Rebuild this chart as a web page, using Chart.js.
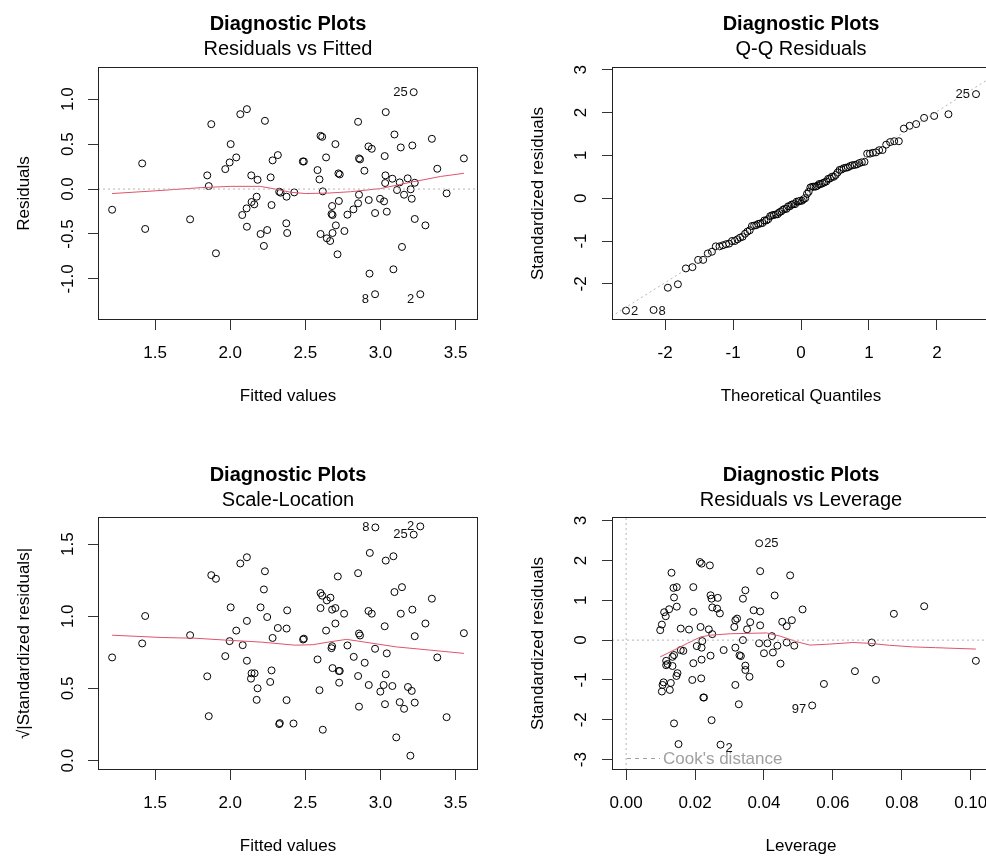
<!DOCTYPE html>
<html><head><meta charset="utf-8">
<script src="https://cdn.jsdelivr.net/npm/chart.js@4.4.1/dist/chart.umd.min.js"></script>
<style>
html,body{margin:0;padding:0;background:#fff;overflow:hidden;width:986px;height:857px;position:relative}
canvas{position:absolute;display:block}
</style></head><body>
<canvas id="c1" width="493" height="451" style="left:0;top:0"></canvas>
<canvas id="c2" width="520" height="451" style="left:493px;top:0"></canvas>
<canvas id="c3" width="493" height="406" style="left:0;top:451px"></canvas>
<canvas id="c4" width="520" height="406" style="left:493px;top:451px"></canvas>
<script>
// ---------------- DATA ----------------
const mainTitle = 'Diagnostic Plots';
const captions = ['Residuals vs Fitted', 'Q-Q Residuals', 'Scale-Location', 'Residuals vs Leverage'];

// Panel 1: Residuals vs Fitted
const p1Fitted = [1.214,1.414,1.434,1.733,1.874,1.847,1.857,1.905,2.067,2.111,2.231,2.003,2.040,1.996,1.967,2.140,2.182,2.282,2.317,2.269,2.326,2.335,2.375,2.176,2.142,2.160,2.109,2.080,2.111,2.275,2.202,2.246,2.224,2.373,2.379,2.426,2.483,2.490,2.581,2.594,2.616,2.601,2.612,2.638,2.700,2.720,2.729,2.678,2.723,2.674,2.681,2.703,2.681,2.601,2.643,2.665,2.760,2.714,2.780,2.820,2.851,2.857,2.851,2.857,2.864,2.893,2.920,2.942,2.922,2.964,2.927,2.964,2.997,3.024,3.042,3.035,3.028,3.033,3.031,3.093,3.079,3.110,3.128,3.135,3.157,3.181,3.228,3.201,3.208,3.212,3.086,3.143,3.228,3.299,3.265,3.221,3.342,3.378,3.440,3.555];
const p1Resid = [-0.230,0.285,-0.444,-0.337,0.722,0.152,0.033,-0.715,0.833,0.889,0.759,0.500,0.352,0.296,0.222,0.152,0.103,0.319,0.378,0.130,-0.030,-0.040,-0.085,-0.085,-0.144,-0.170,-0.215,-0.289,-0.419,-0.178,-0.500,-0.456,-0.633,-0.381,-0.489,-0.037,0.307,0.307,0.211,0.107,-0.026,0.592,0.581,0.352,0.500,0.174,0.163,-0.189,-0.133,-0.278,-0.289,-0.404,-0.489,-0.500,-0.548,-0.578,-0.467,-0.726,-0.285,-0.226,-0.159,-0.063,0.748,0.341,0.330,0.204,0.474,0.448,-0.122,-0.267,-0.941,-1.170,-0.108,-0.137,-0.252,0.856,0.367,0.152,0.067,0.607,0.115,-0.011,0.074,0.463,-0.063,0.119,0.070,-0.003,-0.108,0.485,-0.893,-0.644,-0.333,-0.404,-1.170,1.078,0.559,0.226,-0.048,0.341];
const p1SmoothX = [1.214,1.5,1.8,2.0,2.2,2.3,2.4,2.5,2.65,2.8,3.0,3.2,3.4,3.555];
const p1SmoothY = [-0.050,-0.020,0.015,0.030,0.030,0.000,-0.035,-0.050,-0.045,-0.030,0.005,0.075,0.140,0.175];
const p1RefX = [1.12,3.65];
const p1RefY = [0,0];
const p1IdText = ['25','8','2'];
const p1IdX = [3.221,2.964,3.265];
const p1IdY = [1.078,-1.170,-1.170];
const p1XTicks = [1.5,2.0,2.5,3.0,3.5];
const p1XTickLabels = ['1.5','2.0','2.5','3.0','3.5'];
const p1YTicks = [-1.0,-0.5,0.0,0.5,1.0];
const p1YTickLabels = ['-1.0','-0.5','0.0','0.5','1.0'];

// Panel 2: Q-Q Residuals
const qqTheo = [-2.576,-2.170,-1.960,-1.812,-1.695,-1.598,-1.514,-1.440,-1.372,-1.311,-1.254,-1.200,-1.150,-1.103,-1.058,-1.015,-0.974,-0.935,-0.896,-0.860,-0.824,-0.789,-0.755,-0.722,-0.690,-0.659,-0.628,-0.598,-0.568,-0.539,-0.510,-0.482,-0.454,-0.426,-0.399,-0.372,-0.345,-0.319,-0.292,-0.266,-0.240,-0.215,-0.189,-0.164,-0.138,-0.113,-0.088,-0.063,-0.038,-0.013,0.013,0.038,0.063,0.088,0.113,0.138,0.164,0.189,0.215,0.240,0.266,0.292,0.319,0.345,0.372,0.399,0.426,0.454,0.482,0.510,0.539,0.568,0.598,0.628,0.659,0.690,0.722,0.755,0.789,0.824,0.860,0.896,0.935,0.974,1.015,1.058,1.103,1.150,1.200,1.254,1.311,1.372,1.440,1.514,1.598,1.695,1.812,1.960,2.170,2.576];
const qqStd = [-2.625,-2.610,-2.090,-2.010,-1.640,-1.610,-1.440,-1.440,-1.290,-1.250,-1.125,-1.125,-1.100,-1.075,-1.060,-1.000,-1.000,-0.960,-0.920,-0.900,-0.830,-0.780,-0.750,-0.650,-0.640,-0.630,-0.600,-0.590,-0.580,-0.520,-0.520,-0.490,-0.420,-0.400,-0.390,-0.380,-0.375,-0.330,-0.310,-0.270,-0.250,-0.250,-0.190,-0.190,-0.150,-0.140,-0.140,-0.080,-0.080,-0.060,-0.060,-0.025,0.000,0.100,0.150,0.250,0.265,0.270,0.270,0.290,0.330,0.330,0.350,0.370,0.390,0.450,0.460,0.500,0.500,0.540,0.600,0.660,0.670,0.700,0.710,0.720,0.750,0.770,0.775,0.790,0.820,0.840,0.850,1.040,1.040,1.060,1.070,1.120,1.125,1.250,1.310,1.330,1.330,1.625,1.690,1.730,1.875,1.920,1.960,2.430];
const qqLineX = [-2.79,2.79];
const qqLineY = [-2.76,2.81];
const p2IdText = ['2','8','25'];
const p2IdX = [-2.576,-2.170,2.576];
const p2IdY = [-2.625,-2.610,2.430];
const p2XTicks = [-2,-1,0,1,2];
const p2XTickLabels = ['-2','-1','0','1','2'];
const p2YTicks = [-2,-1,0,1,2,3];
const p2YTickLabels = ['-2','-1','0','1','2','3'];

// Panel 3: Scale-Location
const p3Fitted = [1.214,1.414,1.434,1.733,1.874,1.905,1.847,1.857,2.067,2.111,2.231,2.003,2.040,1.996,1.967,2.083,2.111,2.111,2.142,2.138,2.162,2.182,2.176,2.202,2.224,2.246,2.317,2.375,2.379,2.282,2.275,2.266,2.375,2.326,2.330,2.421,2.485,2.490,2.581,2.594,2.616,2.601,2.612,2.667,2.643,2.601,2.678,2.700,2.758,2.638,2.700,2.716,2.678,2.674,2.780,2.681,2.723,2.729,2.725,2.822,2.895,2.851,2.857,2.851,2.857,2.864,2.920,2.942,2.922,2.929,2.966,2.964,2.999,3.021,3.035,3.042,3.030,3.035,3.086,3.028,3.093,3.143,3.079,3.105,3.135,3.128,3.157,3.183,3.208,3.228,3.212,3.228,3.199,3.221,3.265,3.299,3.342,3.378,3.440,3.555];
const p3SqrtStd = [0.715,0.812,1.002,0.869,1.285,1.260,0.584,0.308,1.366,1.409,1.312,1.062,0.901,0.828,0.724,0.800,0.968,0.692,0.605,0.568,0.605,0.501,0.421,1.062,1.186,0.995,0.919,0.915,1.041,0.850,0.625,0.545,0.419,0.253,0.260,0.257,0.839,0.845,0.701,0.488,0.214,1.161,1.143,1.129,1.110,1.057,1.046,1.057,1.018,0.901,0.950,1.276,0.793,0.779,0.798,0.641,0.621,0.621,0.540,0.719,0.678,0.586,0.374,1.299,0.881,0.867,1.037,1.018,0.524,1.439,1.616,0.775,0.478,0.524,0.598,0.743,0.391,1.386,1.416,0.931,1.168,1.202,0.517,0.161,1.018,0.405,0.359,0.510,0.483,0.402,1.046,0.862,0.034,1.566,1.623,0.950,1.122,0.715,0.301,0.883];
const p3SmoothX = [1.214,1.545,1.766,1.987,2.209,2.43,2.55,2.663,2.774,2.884,3.105,3.327,3.555];
const p3SmoothY = [0.869,0.853,0.848,0.834,0.821,0.800,0.803,0.823,0.840,0.823,0.788,0.766,0.743];
const p3IdText = ['8','25','2'];
const p3IdX = [2.966,3.221,3.265];
const p3IdY = [1.616,1.566,1.623];
const p3XTicks = [1.5,2.0,2.5,3.0,3.5];
const p3XTickLabels = ['1.5','2.0','2.5','3.0','3.5'];
const p3YTicks = [0.0,0.5,1.0,1.5];
const p3YTickLabels = ['0.0','0.5','1.0','1.5'];

// Panel 4: Residuals vs Leverage
const p4Leverage = [0.01317,0.0214,0.0219,0.0243,0.01374,0.0147,0.0195,0.0139,0.0147,0.01249,0.01104,0.01037,0.00989,0.01585,0.01825,0.0195,0.0216,0.0245,0.0248,0.0266,0.0250,0.0264,0.0272,0.0240,0.0250,0.0221,0.0219,0.0283,0.0245,0.0195,0.0219,0.01585,0.0166,0.0139,0.01346,0.01162,0.0120,0.01162,0.01346,0.0149,0.0146,0.01086,0.01057,0.01037,0.01297,0.01268,0.0192,0.0218,0.0224,0.0226,0.0139,0.0248,0.0152,0.0274,0.0317,0.0322,0.0314,0.0317,0.0329,0.0317,0.0327,0.0386,0.0389,0.0476,0.0346,0.0339,0.0431,0.0370,0.0389,0.0512,0.0351,0.0389,0.0453,0.0481,0.0466,0.0423,0.0339,0.0386,0.0410,0.0439,0.0466,0.0488,0.0400,0.0426,0.0333,0.0448,0.0346,0.0346,0.0358,0.0540,0.0574,0.0664,0.0713,0.0725,0.0777,0.0865,0.1015,0.0115,0.0205,0.0360];
const p4Std = [1.69,1.96,1.92,1.875,1.31,1.33,1.33,1.07,0.84,0.775,0.70,0.39,0.25,0.29,0.265,0.71,0.33,1.125,1.04,1.06,0.82,0.79,0.67,0.27,0.15,-0.025,-0.19,-0.25,-0.39,-0.58,-0.49,-0.25,-0.27,-0.375,-0.42,-0.52,-0.60,-0.63,-0.65,-0.83,-0.90,-1.06,-1.125,-1.29,-1.075,-1.25,-1.00,-0.96,-1.44,-1.44,-2.09,-2.01,-2.61,-2.625,0.50,0.54,0.33,-0.19,-0.38,-1.125,-1.61,2.43,1.73,1.625,1.25,1.04,1.12,0.75,0.72,0.77,0.27,0.37,0.46,0.50,0.35,0.10,0.00,-0.08,-0.08,-0.14,-0.06,-0.14,-0.33,-0.31,-0.40,-0.59,-0.64,-0.75,-0.92,-1.64,-1.10,-0.78,-0.06,-1.00,0.66,0.85,-0.52,0.60,-0.15,0.45];
const p4SmoothX = [0.0099,0.0139,0.0178,0.0216,0.0245,0.0303,0.0408,0.0447,0.0495,0.0533,0.0591,0.0658,0.0706,0.0764,0.0831,0.0898,0.1015];
const p4SmoothY = [-0.42,-0.25,-0.08,0.08,0.125,0.16,0.18,0.10,-0.04,-0.125,-0.10,-0.06,-0.08,-0.13,-0.17,-0.19,-0.225];
const p4RefHX = [-0.0041,0.1056];
const p4RefHY = [0,0];
const p4RefVX = [0,0];
const p4RefVY = [-3.26,3.09];
const p4IdText = ['25','97','2'];
const p4IdX = [0.0386,0.0540,0.0274];
const p4IdY = [2.43,-1.64,-2.625];
const p4XTicks = [0,0.02,0.04,0.06,0.08,0.10];
const p4XTickLabels = ['0.00','0.02','0.04','0.06','0.08','0.10'];
const p4YTicks = [-3,-2,-1,0,1,2,3];
const p4YTickLabels = ['-3','-2','-1','0','1','2','3'];
const cookLegend = "Cook's distance";

// ---------------- RENDERING ----------------
const FONT = "'Liberation Sans', Arial, Helvetica, sans-serif";
const SMOOTH_COL = '#DF536B';
const REF_COL = '#B4B4B4';
const zip = (xs, ys) => xs.map((x, i) => ({x: x, y: ys[i]}));

const framePlugin = {
  id: 'rframe',
  afterDatasetsDraw(chart) {
    const {ctx, chartArea: a} = chart;
    ctx.save();
    ctx.strokeStyle = '#222';
    ctx.lineWidth = 1;
    ctx.strokeRect(Math.round(a.left) + 0.5, Math.round(a.top) + 0.5, Math.round(a.right - a.left) - 1, Math.round(a.bottom - a.top) - 1);
    ctx.restore();
  }
};

function yTickLabelPlugin(labels, off) {
  return {
    id: 'ryticks',
    afterDraw(chart) {
      const {ctx, chartArea: a} = chart;
      const ys = chart.scales.y;
      ctx.save();
      ctx.font = '17px ' + FONT;
      ctx.fillStyle = '#000';
      ctx.textAlign = 'center';
      ctx.textBaseline = 'middle';
      ys.ticks.forEach((t, i) => {
        const py = ys.getPixelForValue(t.value);
        ctx.save();
        ctx.translate(a.left - off, py);
        ctx.rotate(-Math.PI / 2);
        ctx.fillText(labels[i], 0, 0);
        ctx.restore();
      });
      ctx.restore();
    }
  };
}

function idLabelPlugin(items) {
  return {
    id: 'ridlabels',
    afterDatasetsDraw(chart) {
      const {ctx} = chart;
      const xs = chart.scales.x, ys = chart.scales.y;
      ctx.save();
      ctx.font = '13px ' + FONT;
      ctx.fillStyle = '#111';
      ctx.textBaseline = 'middle';
      items.forEach(it => {
        const px = xs.getPixelForValue(it.x), py = ys.getPixelForValue(it.y);
        ctx.textAlign = it.side === 'left' ? 'right' : 'left';
        ctx.fillText(it.text, px + (it.side === 'left' ? -6 : 5), py + (it.dy || 0));
      });
      ctx.restore();
    }
  };
}

const cookPlugin = {
  id: 'rcook',
  afterDraw(chart) {
    const {ctx, chartArea: a} = chart;
    ctx.save();
    ctx.strokeStyle = '#A0A0A0';
    ctx.lineWidth = 1;
    ctx.setLineDash([4, 4]);
    ctx.beginPath();
    ctx.moveTo(a.left + 15, Math.round(a.bottom - 12) + 0.5);
    ctx.lineTo(a.left + 48, Math.round(a.bottom - 12) + 0.5);
    ctx.stroke();
    ctx.setLineDash([]);
    ctx.font = '17px ' + FONT;
    ctx.fillStyle = '#A0A0A0';
    ctx.textAlign = 'left';
    ctx.textBaseline = 'middle';
    ctx.fillText(cookLegend, a.left + 51, a.bottom - 11);
    ctx.restore();
  }
};

function gridOpts() {
  return {display: true, drawOnChartArea: false, drawTicks: true, tickLength: 10, tickColor: '#333', tickWidth: 1};
}

function xScale(min, max, ticks, labels, title, H, titlePadBottom) {
  return {
    type: 'linear', position: 'bottom', min: min, max: max,
    afterBuildTicks: s => { s.ticks = ticks.map(v => ({value: v})); },
    afterFit: s => { s.height = H; },
    grid: gridOpts(),
    border: {display: false},
    ticks: {callback: (v, i) => labels[i], font: {family: FONT, size: 17}, color: '#000', padding: 13, maxRotation: 0, minRotation: 0, autoSkip: false},
    title: {display: true, text: title, font: {family: FONT, size: 17}, color: '#000', padding: {top: 0, bottom: titlePadBottom}}
  };
}

function yScale(min, max, ticks, labels, title, W, titlePadTop) {
  return {
    type: 'linear', position: 'left', min: min, max: max,
    afterBuildTicks: s => { s.ticks = ticks.map(v => ({value: v})); },
    afterFit: s => { s.width = W; },
    grid: gridOpts(),
    border: {display: false},
    ticks: {display: false, callback: (v, i) => labels[i]},
    title: {display: true, text: title, font: {family: FONT, size: 17}, color: '#000', padding: {top: titlePadTop, bottom: 0}}
  };
}

function pointsDs(pts) {
  return {data: pts, showLine: false, pointRadius: 3.5, pointBorderWidth: 1, pointBorderColor: '#000', pointBackgroundColor: 'rgba(0,0,0,0)', pointHoverRadius: 3.5};
}
function lineDs(pts, color, dash) {
  return {data: pts, showLine: true, borderColor: color, borderWidth: 1, borderDash: dash || [], pointRadius: 0, pointHoverRadius: 0, fill: false, tension: 0};
}

function makeChart(id, caption, datasets, xs, ys, padRight, subPadBottom, extraPlugins) {
  return new Chart(document.getElementById(id), {
    type: 'scatter',
    data: {datasets: datasets},
    options: {
      responsive: false, animation: false, devicePixelRatio: 1, events: [],
      layout: {padding: {left: 0, right: padRight, top: 0, bottom: 0}},
      plugins: {
        legend: {display: false},
        tooltip: {enabled: false},
        title: {display: true, text: mainTitle, fullSize: false, color: '#000', font: {family: FONT, size: 20, weight: 'bold', lineHeight: 1.2}, padding: {top: 12, bottom: 0}},
        subtitle: {display: true, text: caption, fullSize: false, color: '#000', font: {family: FONT, size: 20, weight: 'normal', lineHeight: 1.2}, padding: {top: 1, bottom: subPadBottom}}
      },
      scales: {x: xs, y: ys}
    },
    plugins: [framePlugin].concat(extraPlugins)
  });
}

function idItems(xs, ys, texts, sides, dys) {
  return texts.map((t, i) => ({x: xs[i], y: ys[i], text: t, side: sides[i], dy: dys[i]}));
}

// Panel 1
makeChart('c1', captions[0],
  [lineDs(zip(p1RefX, p1RefY), REF_COL, [2, 3]), lineDs(zip(p1SmoothX, p1SmoothY), SMOOTH_COL), pointsDs(zip(p1Fitted, p1Resid))],
  xScale(1.120, 3.649, p1XTicks, p1XTickLabels, 'Fitted values', 131, 44.8),
  yScale(-1.457, 1.358, p1YTicks, p1YTickLabels, 'Residuals', 98, 13.8),
  15, 6,
  [yTickLabelPlugin(p1YTickLabels, 30), idLabelPlugin(idItems(p1IdX, p1IdY, p1IdText, ['left','left','left'], [0, 5, 5]))]);

// Panel 2
makeChart('c2', captions[1],
  [lineDs(zip(qqLineX, qqLineY), REF_COL, [2, 3]), pointsDs(zip(qqTheo, qqStd))],
  xScale(-2.782, 2.782, p2XTicks, p2XTickLabels, 'Theoretical Quantiles', 131, 44.8),
  yScale(-2.844, 3.063, p2YTicks, p2YTickLabels, 'Standardized residuals', 119, 34.8),
  23, 6,
  [yTickLabelPlugin(p2YTickLabels, 31), idLabelPlugin(idItems(p2IdX, p2IdY, p2IdText, ['right','right','left'], [1, 1, 0]))]);

// Panel 3
makeChart('c3', captions[2],
  [lineDs(zip(p3SmoothX, p3SmoothY), SMOOTH_COL), pointsDs(zip(p3Fitted, p3SqrtStd))],
  xScale(1.120, 3.649, p3XTicks, p3XTickLabels, 'Fitted values', 87, 0),
  yScale(-0.065, 1.688, p3YTicks, p3YTickLabels, '\u221A|Standardized residuals|', 98, 13.8),
  15, 5,
  [yTickLabelPlugin(p3YTickLabels, 30), idLabelPlugin(idItems(p3IdX, p3IdY, p3IdText, ['left','left','left'], [0, 0, 0]))]);

// Panel 4
makeChart('c4', captions[3],
  [lineDs(zip(p4RefHX, p4RefHY), REF_COL, [2, 3]), lineDs(zip(p4RefVX, p4RefVY), REF_COL, [2, 3]), lineDs(zip(p4SmoothX, p4SmoothY), SMOOTH_COL), pointsDs(zip(p4Leverage, p4Std))],
  xScale(-0.0041, 0.1056, p4XTicks, p4XTickLabels, 'Leverage', 87, 0),
  yScale(-3.26, 3.09, p4YTicks, p4YTickLabels, 'Standardized residuals', 119, 34.8),
  23, 5,
  [yTickLabelPlugin(p4YTickLabels, 31), idLabelPlugin(idItems(p4IdX, p4IdY, p4IdText, ['right','left','right'], [0, 4, 4])), cookPlugin]);
</script>
</body></html>
